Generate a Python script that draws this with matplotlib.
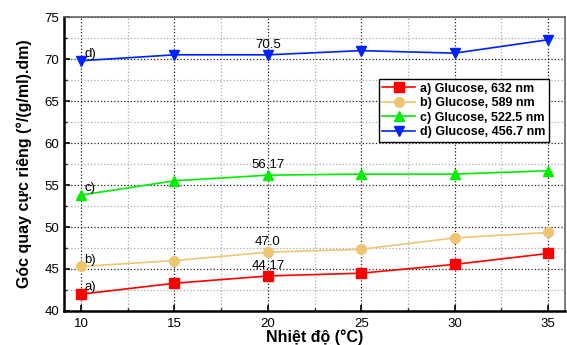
import matplotlib
matplotlib.use("Agg")
import matplotlib.pyplot as plt
from matplotlib.ticker import MultipleLocator

plt.rcParams['font.family'] = ['Liberation Sans', 'DejaVu Sans']

# nhiet do (C)
temps = [10, 15, 20, 25, 30, 35]

# goc quay cuc rieng
glu_632 = [42.0, 43.3, 44.17, 44.5, 45.55, 46.85]
glu_589 = [45.3, 46.0, 47.0, 47.35, 48.7, 49.35]
glu_5225 = [53.8, 55.5, 56.17, 56.3, 56.3, 56.7]
glu_4567 = [69.8, 70.5, 70.5, 71.0, 70.7, 72.3]

labels = ['a) Glucose, 632 nm', 'b) Glucose, 589 nm',
          'c) Glucose, 522.5 nm', 'd) Glucose, 456.7 nm']
short = ['a)', 'b)', 'c)', 'd)']
marked = ['44.17', '47.0', '56.17', '70.5']  # gia tri ghi tai 20 C

series = [glu_632, glu_589, glu_5225, glu_4567]
colors = ['#ff0000', '#eec572', '#00ee00', '#0022ff']
markers = ['s', 'o', '^', 'v']

fig = plt.figure(figsize=(5.67, 3.45), dpi=100)
ax = fig.add_axes([0.113, 0.0986, 0.8835, 0.852])

for ys, lb, c, m in zip(series, labels, colors, markers):
    ax.plot(temps, ys, color=c, marker=m, markersize=7, linewidth=1.2, label=lb)

for ys, s, v in zip(series, short, marked):
    ax.text(temps[0] + 0.2, ys[0] + 0.8, s, fontsize=9.5, ha='left', va='center')
    ax.text(temps[2], ys[2] + 1.2, v, fontsize=9.5, ha='center', va='center')

ax.set_xlim(9.1, 35.9)
ax.set_ylim(40, 75)
ax.xaxis.set_major_locator(MultipleLocator(5))
ax.xaxis.set_minor_locator(MultipleLocator(2.5))
ax.yaxis.set_major_locator(MultipleLocator(5))
ax.yaxis.set_minor_locator(MultipleLocator(2.5))
ax.tick_params(which='both', direction='in', labelsize=9.5)
ax.tick_params(which='major', length=4, width=1.2)
ax.tick_params(which='minor', length=2.5, width=1)
ax.tick_params(axis='x', pad=5)

ax.grid(which='major', linestyle=':', color='#222222', linewidth=0.9)
ax.grid(which='minor', linestyle=':', color='#aaaaaa', linewidth=0.9)
ax.set_axisbelow(True)

for sp in ['left', 'bottom']:
    ax.spines[sp].set_linewidth(1.8)
for sp in ['top', 'right']:
    ax.spines[sp].set_color('#666666')
    ax.spines[sp].set_linewidth(1.2)

ax.set_xlabel('Nhiệt độ (°C)', fontsize=11.5, fontweight='bold', labelpad=0)
ax.set_ylabel('Góc quay cực riêng (°/(g/ml).dm)', fontsize=11.5, fontweight='bold', labelpad=9)

leg = ax.legend(loc='upper right', bbox_to_anchor=(0.968, 0.79), fancybox=False,
                edgecolor='black', framealpha=1, prop={'weight': 'bold', 'size': 9},
                handlelength=2.6, borderpad=0.3, labelspacing=0.2, handletextpad=0.4,
                borderaxespad=0)
leg.get_frame().set_linewidth(1.0)

fig.savefig('out.png')
